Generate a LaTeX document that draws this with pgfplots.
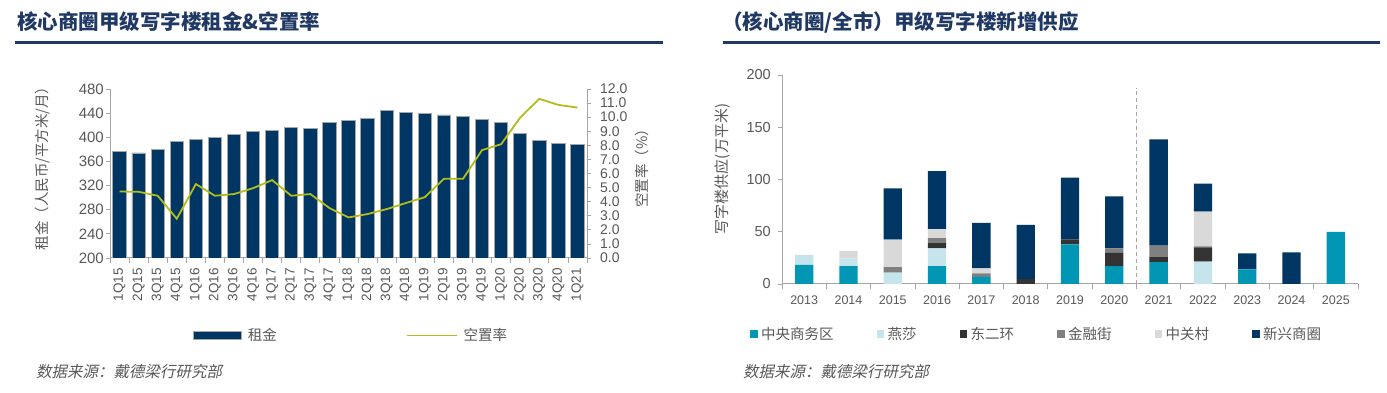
\documentclass[border=0pt]{standalone}
\usepackage{pgfplots}
\pgfplotsset{compat=1.18}
\usepackage{pgfplotstable}
\usepackage{fontspec}
\setmainfont{Liberation Sans}
\newfontfamily\cjk{Noto Sans CJK SC}
\newfontfamily\cjkit{Noto Sans CJK SC}[FakeSlant=0.2]
\definecolor{navy}{HTML}{003663}
\definecolor{titlec}{HTML}{1F3864}
\definecolor{olive}{HTML}{B3BC1A}
\definecolor{txt}{HTML}{595959}
\definecolor{axc}{HTML}{A6A6A6}
\definecolor{cbd}{HTML}{0096B4}
\definecolor{yansha}{HTML}{C5E4EC}
\definecolor{deh}{HTML}{333333}
\definecolor{jrj}{HTML}{808080}
\definecolor{zgc}{HTML}{D9D9D9}
\definecolor{xx}{HTML}{003663}

\pgfplotstableread{
x rent vac
0 376 4.72
1 374 4.70
2 380 4.42
3 393 2.79
4 397 5.25
5 399 4.42
6 404 4.54
7 410 4.96
8 411 5.53
9 416 4.42
10 415 4.54
11 424 3.55
12 428 2.88
13 431 3.12
14 444 3.47
15 441 3.90
16 440 4.32
17 437 5.62
18 434 5.62
19 430 7.66
20 425 8.08
21 407 9.97
22 394 11.30
23 389 10.87
24 388 10.68
}\lefttab

\pgfplotstableread{
x cbd ys deh jrj zgc xx
0 18.2 9.6 0 0 0 0
1 17.2 7.0 0 0 7.4 0
2 0 10.8 0 5.4 26.2 49.1
3 17.2 16.9 5.1 4.8 8.6 55.5
4 6.7 0 0 3.5 4.8 43.4
5 0 0 4.8 0 0 51.7
6 38.0 0 4.7 0 0 59.1
7 17.2 0 12.5 4.4 0 49.8
8 21.0 0 5.2 10.5 0 101.8
9 0 21.4 13.7 0.9 33.2 26.8
10 14.0 0 0 0 0 15.3
11 0 0 0 0 0 30.3
12 49.8 0 0 0 0 0
}\righttab

\pgfplotsset{
  base/.style={
    scale only axis,
    axis line style={axc, line width=1pt},
    tick style={axc, line width=0.8pt},
    tick align=outside,
    major tick length=4pt,
    minor tick length=5pt,
    ticklabel style={font=\fontsize{14}{14}\selectfont, text=txt},
    /pgf/number format/assume math mode=true,
  }
}

\begin{document}
\begin{tikzpicture}
\fill[white] (0,0) rectangle (1387pt,393pt);
\path[use as bounding box] (0,0) rectangle (1387pt,393pt);

% ---------- Left chart: rent bars ----------
\begin{axis}[base,
  at={(110pt,135pt)}, anchor=south west,
  width=477pt, height=169pt,
  xmin=-0.5, xmax=24.5, ymin=200, ymax=480,
  ytick={200,240,...,480},
  axis y line*=left, axis x line*=bottom,
  xtick={0,...,24},
  xticklabels={1Q15,2Q15,3Q15,4Q15,1Q16,2Q16,3Q16,4Q16,1Q17,2Q17,3Q17,4Q17,1Q18,2Q18,3Q18,4Q18,1Q19,2Q19,3Q19,4Q19,1Q20,2Q20,3Q20,4Q20,1Q21},
  major x tick style={draw=none},
  minor xtick={-0.5,0.5,...,24.5},
  xticklabel style={font=\fontsize{13.5}{13.5}\selectfont, inner sep=0pt, yshift=-6pt, rotate=90, anchor=east},
  yticklabel style={anchor=east, inner sep=0pt, xshift=-2pt, font=\fontsize{15}{15}\selectfont},
  ybar, bar width=13.3pt,
]
\addplot[fill=navy, draw=axc, line width=0.9pt] table[x=x, y=rent]{\lefttab};
\end{axis}

% ---------- Left chart: vacancy line ----------
\begin{axis}[base,
  at={(110pt,135pt)}, anchor=south west,
  width=477pt, height=169pt,
  xmin=-0.5, xmax=24.5, ymin=0, ymax=12,
  ytick={0,1,...,12},
  axis y line*=right, axis x line=none,
  yticklabel style={anchor=west, inner sep=0pt, xshift=9pt, /pgf/number format/.cd, fixed, fixed zerofill, precision=1},
  legend columns=2,
  legend style={at={(0.174,-0.4586)}, anchor=west, draw=none, fill=none, inner sep=0pt,
    font=\cjk\fontsize{14.5}{14.5}\selectfont, text=txt,
    nodes={inner sep=0pt},
    /tikz/every odd column/.append style={column sep=6pt},
    /tikz/every even column/.append style={column sep=129pt}},
]
\addlegendimage{legend image code/.code={\fill[navy, draw=axc, line width=0.8pt] (0pt,-3.7pt) rectangle (48pt,3.7pt);}}
\addlegendentry{租金}
\addplot[olive, line width=1.8pt, mark=none,
  legend image code/.code={\draw[olive, line width=1.6pt] (0pt,0pt) -- (50pt,0pt);}]
  table[x=x, y=vac]{\lefttab};
\addlegendentry{空置率}
\end{axis}

% ---------- Right chart: stacked supply ----------
\begin{axis}[base,
  at={(782pt,109pt)}, anchor=south west,
  width=576pt, height=209pt,
  xmin=-0.5, xmax=12.5, ymin=0, ymax=200,
  ytick={0,50,...,200},
  axis y line*=left, axis x line*=bottom,
  xtick={0,...,12},
  xticklabels={2013,2014,2015,2016,2017,2018,2019,2020,2021,2022,2023,2024,2025},
  major x tick style={draw=none},
  minor xtick={-0.5,0.5,...,12.5},
  xticklabel style={font=\fontsize{12.5}{12.5}\selectfont, inner sep=0pt, yshift=-8pt},
  yticklabel style={anchor=east, inner sep=0pt, xshift=-7pt, font=\fontsize{14.5}{14.5}\selectfont},
  ybar stacked, bar width=18.3pt,
  legend columns=6,
  legend style={at={(-0.0556,-0.239)}, anchor=west, draw=none, fill=none, inner sep=0pt,
    font=\cjk\fontsize{14.5}{14.5}\selectfont, text=txt,
    nodes={inner sep=0pt},
    /tikz/every odd column/.append style={column sep=3.5pt},
    /tikz/every even column/.append style={column sep=43pt}},
]
\addplot[fill=cbd, draw=none, legend image code/.code={\fill[cbd] (0pt,-3.75pt) rectangle (7.5pt,3.75pt);}] table[x=x, y=cbd]{\righttab};
\addlegendentry{中央商务区}
\addplot[fill=yansha, draw=none, legend image code/.code={\fill[yansha] (0pt,-3.75pt) rectangle (7.5pt,3.75pt);}] table[x=x, y=ys]{\righttab};
\addlegendentry{燕莎}
\addplot[fill=deh, draw=none, legend image code/.code={\fill[deh] (0pt,-3.75pt) rectangle (7.5pt,3.75pt);}] table[x=x, y=deh]{\righttab};
\addlegendentry{东二环}
\addplot[fill=jrj, draw=none, legend image code/.code={\fill[jrj] (0pt,-3.75pt) rectangle (7.5pt,3.75pt);}] table[x=x, y=jrj]{\righttab};
\addlegendentry{金融街}
\addplot[fill=zgc, draw=none, legend image code/.code={\fill[zgc] (0pt,-3.75pt) rectangle (7.5pt,3.75pt);}] table[x=x, y=zgc]{\righttab};
\addlegendentry{中关村}
\addplot[fill=xx, draw=none, legend image code/.code={\fill[xx] (0pt,-3.75pt) rectangle (7.5pt,3.75pt);}] table[x=x, y=xx]{\righttab};
\addlegendentry{新兴商圈}
\draw[axc, line width=1pt, dash pattern=on 4pt off 3pt] (axis cs:7.5,0) -- (axis cs:7.5,188);
\end{axis}

% ---------- Titles, rules, labels, sources ----------
\node[anchor=west, inner sep=0pt, font=\cjk\bfseries\fontsize{20.5}{20.5}\selectfont, text=titlec] at (17pt,371pt) {核心商圈甲级写字楼租金\&空置率};
\draw[titlec, line width=2.5pt] (15pt,350.3pt) -- (663pt,350.3pt);
\node[anchor=west, inner sep=0pt, font=\cjk\bfseries\fontsize{20.5}{20.5}\selectfont, text=titlec] at (722pt,371pt) {（核心商圈/全市）甲级写字楼新增供应};
\draw[titlec, line width=2.5pt] (723pt,350.3pt) -- (1380pt,350.3pt);

\node[rotate=90, inner sep=0pt, font=\cjk\fontsize{14.5}{14.5}\selectfont, text=txt] at (43pt,228pt) {租金（人民币/平方米/月）};
\node[rotate=90, inner sep=0pt, font=\cjk\fontsize{14.5}{14.5}\selectfont, text=txt] at (642pt,228pt) {空置率（\%）};
\node[rotate=90, inner sep=0pt, font=\cjk\fontsize{15}{15}\selectfont, text=txt] at (723pt,224pt) {写字楼供应(万平米)};

\node[anchor=west, inner sep=0pt, font=\cjkit\fontsize{15.5}{15.5}\selectfont, text=txt] at (36pt,21.3pt) {数据来源：戴德梁行研究部};
\node[anchor=west, inner sep=0pt, font=\cjkit\fontsize{15.5}{15.5}\selectfont, text=txt] at (743pt,21.3pt) {数据来源：戴德梁行研究部};
\end{tikzpicture}
\end{document}
